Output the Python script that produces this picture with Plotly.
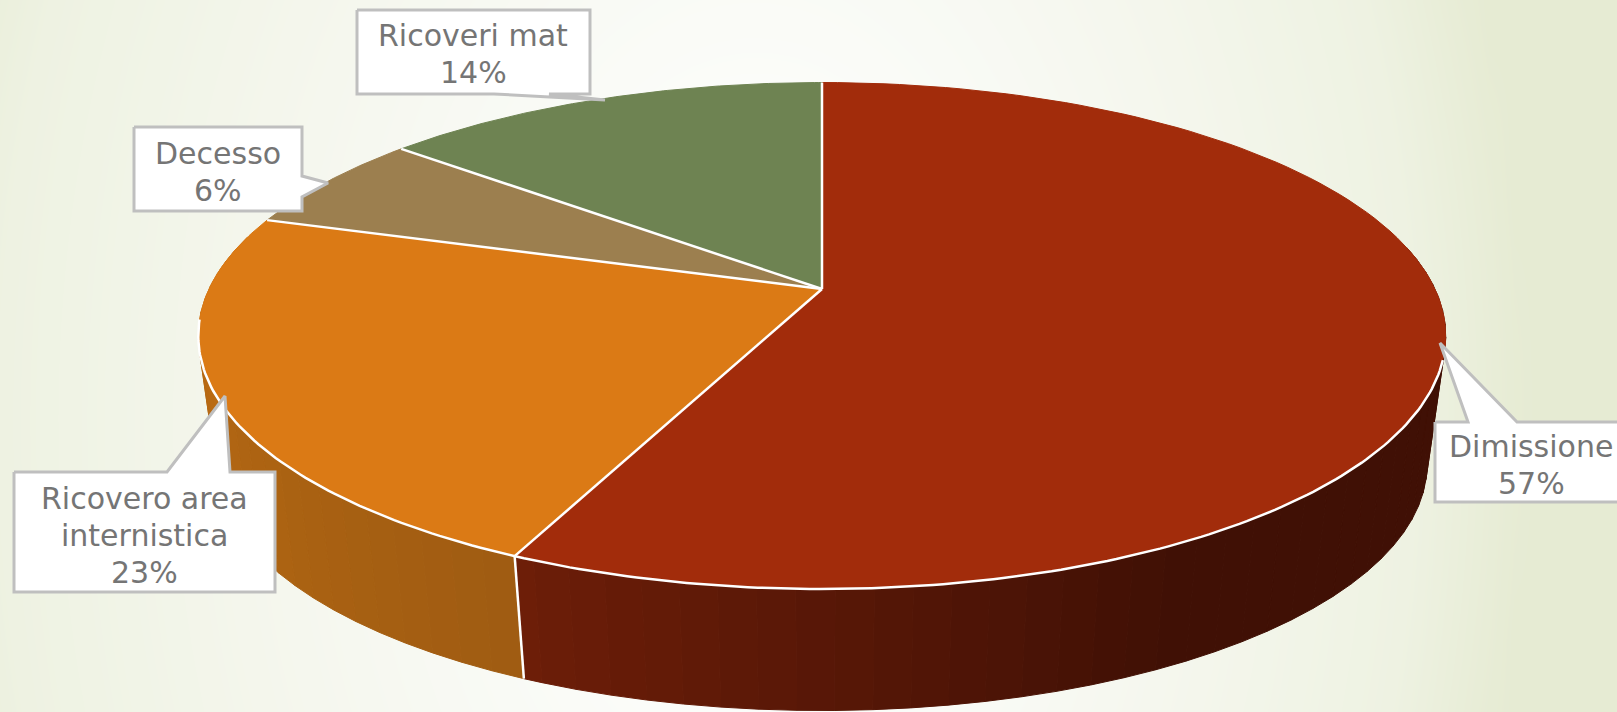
import numpy as np
import plotly.graph_objects as go

categories = ["Dimissione", "Ricovero area internistica", "Decesso", "Ricoveri mat"]
values = [56.85, 22.95, 6.27, 13.93]
labels = [["Dimissione", "57%"], ["Ricovero area", "internistica", "23%"], ["Decesso", "6%"], ["Ricoveri mat", "14%"]]
top_colors = ["#A22C0B", "#DB7A15", "#9C7F4F", "#6E8352"]

W, H = 1617, 712
CX, CY, A, B, K = 822, 289, 613, 244.6, 0.1847
VX, VY, S = 822, 4640, 0.97


def top(t):
    t = np.radians(t)
    d = 1 + K * np.cos(t)
    return CX + A * np.sin(t) / d, CY - B * np.cos(t) / d


def bot(t):
    x, y = top(t)
    return VX + S * (x - VX), VY + S * (y - VY)


def lerp(c0, c1, f):
    f = max(0, min(1, f))
    return "rgb(%d,%d,%d)" % tuple(round(a + (b - a) * f) for a, b in zip(c0, c1))


fig = go.Figure()

# background
gx = np.linspace(0, W, 64)
gy = np.linspace(0, H, 30)
X, Y = np.meshgrid(gx, gy)
R = np.sqrt(((X - 780) / 820) ** 2 + ((Y - 420) / 1300) ** 2)
Z = np.clip(R + 0.1 * (X - 800) / 800, 0, 1)
fig.add_trace(go.Heatmap(x=gx, y=gy, z=Z, zmin=0, zmax=1, zsmooth="best", showscale=False, hoverinfo="skip",
                         colorscale=[[0, "#FFFFFF"], [0.25, "#FBFCF9"], [0.6, "#F4F6EC"], [0.85, "#EEF2E2"], [1, "#E6EBD3"]]))

edges = np.concatenate([[0], np.cumsum(values)]) * 3.6


# sides
def strip(t0, t1, color):
    ts = np.array([t0, t1])
    x0, y0 = top(ts)
    x1, y1 = bot(ts)
    fig.add_trace(go.Scatter(x=[x0[0], x0[1], x1[1], x1[0], x0[0]], y=[y0[0], y0[1], y1[1], y1[0], y0[0]],
                             mode="lines", fill="toself", fillcolor=color, line=dict(color=color, width=1),
                             hoverinfo="skip", showlegend=False))


RED_L, RED_D = (0x6E, 0x1E, 0x08), (0x40, 0x10, 0x05)
ORA_L, ORA_D = (0xA0, 0x5C, 0x12), (0xBC, 0x6C, 0x13)
for t in np.arange(80, edges[1], 3.0):
    t1 = min(t + 3.0, edges[1])
    strip(t, t1, lerp(RED_D, RED_L, (t - 150) / (edges[1] - 150)))
for t in np.arange(edges[1], 282, 3.0):
    strip(t, t + 3.0, lerp(ORA_L, ORA_D, (t - edges[1]) / 65))

# boundary between side walls
bx0, by0 = top(edges[1])
bx1, by1 = bot(edges[1])
fig.add_trace(go.Scatter(x=[bx0, bx1], y=[by0, by1], mode="lines", line=dict(color="#FFFFFF", width=2.5),
                         hoverinfo="skip", showlegend=False))

# top wedges
for i, c in enumerate(top_colors):
    ts = np.linspace(edges[i], edges[i + 1], 120)
    x, y = top(ts)
    fig.add_trace(go.Scatter(x=np.concatenate([[CX], x, [CX]]), y=np.concatenate([[CY], y, [CY]]),
                             mode="lines", fill="toself", fillcolor=c, line=dict(color=c, width=1),
                             name=categories[i], hoverinfo="skip", showlegend=False))
for e in edges[:-1]:
    x, y = top(e)
    fig.add_trace(go.Scatter(x=[CX, x], y=[CY, y], mode="lines", line=dict(color="#FFFFFF", width=2.5),
                             hoverinfo="skip", showlegend=False))
ts = np.linspace(106, 263, 200)
x, y = top(ts)
fig.add_trace(go.Scatter(x=x, y=y, mode="lines", line=dict(color="#FFFFFF", width=2.5),
                         hoverinfo="skip", showlegend=False))

# callouts
callouts = [
    ([1435, 1468, 1440, 1517, 1640, 1640, 1435], [422, 422, 343, 422, 422, 502, 502]),
    ([14, 167, 225, 230, 275, 275, 14], [472, 472, 396, 472, 472, 592, 592]),
    ([134, 302, 302, 328, 302, 302, 134], [127, 127, 176, 183, 197, 211, 211]),
    ([357, 590, 590, 549, 605, 494, 357], [10, 10, 94, 94, 100, 94, 94]),
]
for cx_, cy_ in callouts:
    fig.add_trace(go.Scatter(x=cx_ + cx_[:1], y=cy_ + cy_[:1], mode="lines", fill="toself", fillcolor="#FFFFFF",
                             line=dict(color="#BFBFBF", width=3), hoverinfo="skip", showlegend=False))

first_line = [(1531, 446), (144, 498), (218, 153), (473, 35)]
LINE_GAP = 37
for lab, (tx, ty) in zip(labels, first_line):
    for j, line in enumerate(lab):
        fig.add_annotation(x=tx, y=ty + j * LINE_GAP, text=line, showarrow=False, xref="x", yref="y",
                           font=dict(family="DejaVu Sans", size=30, color="#757575"))

fig.update_xaxes(range=[0, W], visible=False, fixedrange=True)
fig.update_yaxes(range=[H, 0], visible=False, fixedrange=True)
fig.update_layout(width=W, height=H, margin=dict(l=0, r=0, t=0, b=0), showlegend=False,
                  paper_bgcolor="#FFFFFF", plot_bgcolor="#FFFFFF")
fig.write_html("out.html", config={"displayModeBar": False},
               post_script="document.body.style.margin='0';")
